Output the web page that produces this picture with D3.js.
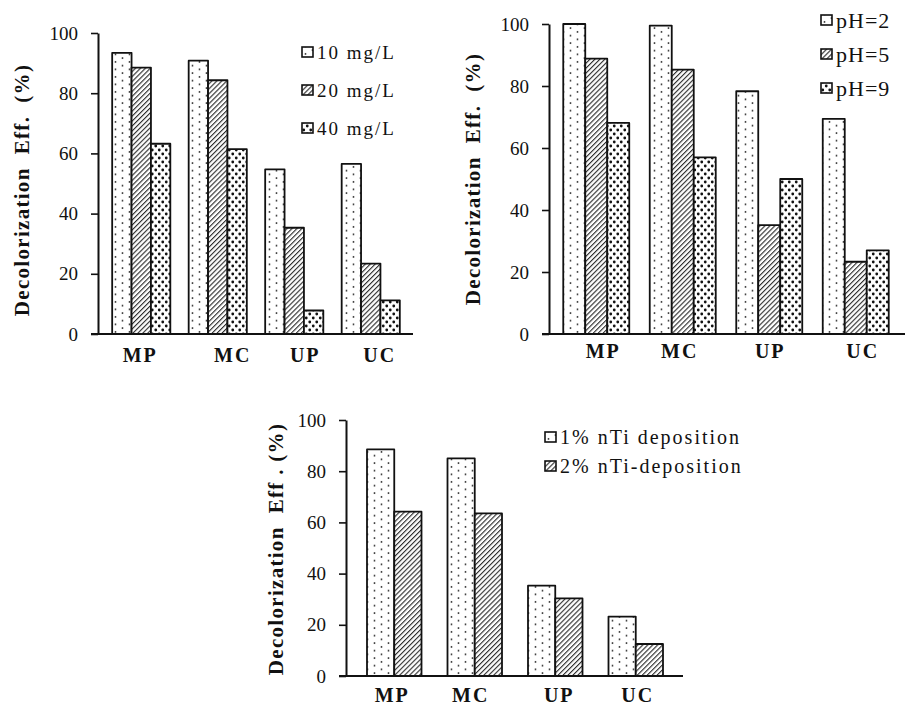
<!DOCTYPE html>
<html>
<head>
<meta charset="utf-8">
<script src="https://cdn.jsdelivr.net/npm/d3@7"></script>
<style>
  body { margin: 0; background: #fff; }
  svg text { font-family: "Liberation Serif", "DejaVu Serif", serif; fill: #111; }
</style>
</head>
<body>
<div id="chart"></div>
<script>
// shared categories and ticks
var categories = ["MP", "MC", "UP", "UC"];
var yTicks = [0, 20, 40, 60, 80, 100];

// panel a: dye concentration
var concNames = ["10 mg/L", "20 mg/L", "40 mg/L"];
var conc10 = [93.4, 90.8, 54.7, 56.5];
var conc20 = [88.5, 84.3, 35.3, 23.4];
var conc40 = [63.2, 61.4, 7.8, 11.2];

// panel b: pH
var phNames = ["pH=2", "pH=5", "pH=9"];
var ph2 = [100, 99.5, 78.3, 69.4];
var ph5 = [88.8, 85.3, 35.1, 23.3];
var ph9 = [68.1, 57.0, 50.0, 27.0];

// panel c: nTi deposition
var depNames = ["1% nTi deposition", "2% nTi-deposition"];
var dep1 = [88.5, 85.0, 35.3, 23.2];
var dep2 = [64.2, 63.5, 30.3, 12.5];

var fills = ["url(#dots)", "url(#hatch)", "url(#spots)"];
var serif = "'Liberation Serif', 'DejaVu Serif', serif";

var panels = [
	{ names: concNames, series: [conc10, conc20, conc40], title: "Decolorization  Eff.  (%)",
	  axisX: 98, axisEnd: 413, top: 33, bottom: 334, bandL: 103, bandR: 409, padIn: 0.24,
	  titleX: 29, titleY: 190, labelY: 362, labelDx: [-1, 15, 11, 9],
	  legX: 302, legY: 52, legStep: 38, legFont: 19, legSpace: 2 },
	{ names: phNames, series: [ph2, ph5, ph9], title: "Decolorization  Eff.  (%)",
	  axisX: 549, axisEnd: 905, top: 24, bottom: 334, bandL: 553, bandR: 899, padIn: 0.237,
	  titleX: 480, titleY: 179, labelY: 358, labelDx: [7, -3, 1, 7],
	  legX: 821, legY: 20, legStep: 34, legFont: 22, legSpace: 1 },
	{ names: depNames, series: [dep1, dep2], title: "Decolorization  Eff . (%)",
	  axisX: 346, axisEnd: 683, top: 420, bottom: 676, bandL: 354, bandR: 676, padIn: 0.323,
	  titleX: 283, titleY: 549, labelY: 702, labelDx: [-2, -4, 4, 2],
	  legX: 545, legY: 437, legStep: 29, legFont: 20, legSpace: 2 }
];

var svg = d3.select("#chart").append("svg")
		.attr("width", 909)
		.attr("height", 709);

svg.append("rect").attr("width", 909).attr("height", 709).attr("fill", "#fff");

var defs = svg.append("defs");

var dots = defs.append("pattern")
		.attr("id", "dots")
		.attr("patternUnits", "userSpaceOnUse")
		.attr("width", 14).attr("height", 7.5);
dots.append("rect").attr("width", 14).attr("height", 7.5).attr("fill", "#fff");
dots.append("circle").attr("cx", 3.5).attr("cy", 1.9).attr("r", 0.95).attr("fill", "#333");
dots.append("circle").attr("cx", 10.5).attr("cy", 5.6).attr("r", 0.95).attr("fill", "#333");

var hatch = defs.append("pattern")
		.attr("id", "hatch")
		.attr("patternUnits", "userSpaceOnUse")
		.attr("width", 3.5).attr("height", 3.5)
		.attr("patternTransform", "rotate(45)");
hatch.append("rect").attr("width", 3.5).attr("height", 3.5).attr("fill", "#fff");
hatch.append("line").attr("x1", 0.6).attr("y1", 0).attr("x2", 0.6).attr("y2", 3.5)
		.attr("stroke", "#111").attr("stroke-width", 1.0);

var spots = defs.append("pattern")
		.attr("id", "spots")
		.attr("patternUnits", "userSpaceOnUse")
		.attr("width", 7).attr("height", 8);
spots.append("rect").attr("width", 7).attr("height", 8).attr("fill", "#fff");
spots.append("circle").attr("cx", 1.75).attr("cy", 2).attr("r", 1.4).attr("fill", "#111");
spots.append("circle").attr("cx", 5.25).attr("cy", 6).attr("r", 1.4).attr("fill", "#111");

panels.forEach(function(p) {
	var g = svg.append("g");

	var y = d3.scaleLinear().domain([0, 100]).range([p.bottom, p.top]);
	var x = d3.scaleBand().domain(categories).range([p.bandL, p.bandR])
			.paddingInner(p.padIn).paddingOuter(p.padIn / 2);
	var xs = d3.scaleBand().domain(d3.range(p.series.length)).range([0, x.bandwidth()]);

	// bars
	p.series.forEach(function(values, si) {
		g.append("g").selectAll("rect")
			.data(values)
			.join("rect")
			.attr("x", function(d, i) { return x(categories[i]) + xs(si); })
			.attr("y", function(d) { return y(d); })
			.attr("width", xs.bandwidth())
			.attr("height", function(d) { return p.bottom - y(d); })
			.attr("fill", fills[si])
			.attr("stroke", "#111")
			.attr("stroke-width", 1.8)
			.attr("stroke-linejoin", "round");
	});

	// y axis
	var yAxis = g.append("g")
			.attr("transform", "translate(" + p.axisX + ",0)")
			.call(d3.axisLeft(y).tickValues(yTicks).tickSize(7).tickPadding(13).tickSizeOuter(0));
	yAxis.attr("font-family", serif);
	yAxis.select(".domain").attr("stroke", "#111").attr("stroke-width", 2);
	yAxis.selectAll(".tick line").attr("stroke", "#111").attr("stroke-width", 1.6);
	yAxis.selectAll(".tick text")
			.style("font-family", serif)
			.style("font-size", "19px")
			.attr("fill", "#222");

	// x axis
	var xAxis = g.append("g")
			.attr("transform", "translate(0," + p.bottom + ")")
			.call(d3.axisBottom(x).tickSize(0).tickPadding(p.labelY - p.bottom - 14));
	xAxis.attr("font-family", serif);
	xAxis.select(".domain").remove();
	xAxis.selectAll(".tick text")
			.attr("dx", function(d, i) { return p.labelDx[i]; })
			.style("font-family", serif)
			.style("font-size", "20px")
			.style("font-weight", "bold")
			.style("letter-spacing", "2px")
			.attr("fill", "#111");
	g.append("line")
			.attr("x1", p.axisX - 7).attr("x2", p.axisEnd)
			.attr("y1", p.bottom).attr("y2", p.bottom)
			.attr("stroke", "#111").attr("stroke-width", 2);

	// y title
	g.append("text")
			.attr("transform", "translate(" + p.titleX + "," + p.titleY + ") rotate(-90)")
			.attr("text-anchor", "middle")
			.style("font-family", serif)
			.style("font-size", "21px")
			.style("font-weight", "bold")
			.style("letter-spacing", "1.3px")
			.style("white-space", "pre")
			.text(p.title);

	// legend
	var leg = g.append("g").selectAll("g")
			.data(p.names)
			.join("g")
			.attr("transform", function(d, i) { return "translate(" + p.legX + "," + (p.legY + i * p.legStep) + ")"; });
	leg.append("rect")
			.attr("x", 0).attr("y", -5)
			.attr("width", 11).attr("height", 10)
			.attr("fill", function(d, i) { return fills[i]; })
			.attr("stroke", "#111").attr("stroke-width", 1.6);
	leg.append("text")
			.attr("x", 15)
			.attr("dominant-baseline", "central")
			.style("font-family", serif)
			.style("font-size", p.legFont + "px")
			.style("letter-spacing", p.legSpace + "px")
			.text(function(d) { return d; });
});
</script>
</body>
</html>
